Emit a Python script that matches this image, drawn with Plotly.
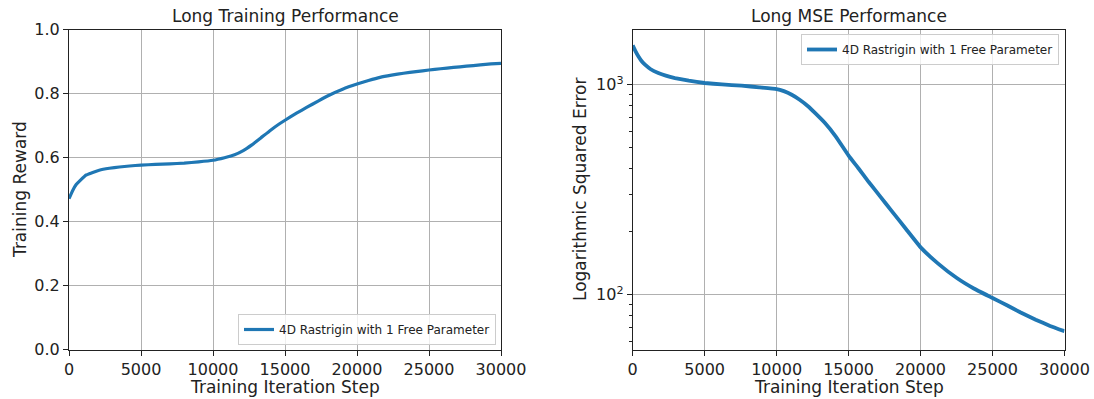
import plotly.graph_objects as go

# Long training run: reward curve (left) and MSE curve on a log scale (right)
reward_steps = [0, 250, 500, 800, 1200, 1600, 2100, 2800, 3500, 4200, 5000, 6000,
                7000, 8000, 9000, 10000, 10800, 11500, 12100, 12700, 13300, 14000,
                14620, 15000, 15800, 16500, 17300, 18100, 19000, 20000, 20800, 21600,
                22400, 23230, 24100, 25000, 25800, 26700, 27600, 28560, 29300, 30000]
reward_values = [0.472, 0.497, 0.516, 0.530, 0.546, 0.553, 0.561, 0.567, 0.571, 0.574,
                 0.577, 0.579, 0.581, 0.583, 0.587, 0.592, 0.600, 0.609, 0.622, 0.640,
                 0.661, 0.686, 0.706, 0.717, 0.739, 0.757, 0.777, 0.796, 0.814, 0.830,
                 0.841, 0.851, 0.858, 0.864, 0.869, 0.874, 0.878, 0.882, 0.886, 0.890,
                 0.893, 0.895]

mse_steps = [0, 200, 390, 600, 855, 1250, 1780, 2300, 2940, 3900, 5000, 6200, 7570,
             8800, 10000, 10500, 11050, 11600, 12200, 12700, 13360, 14100, 15000,
             15680, 16400, 17190, 18000, 19000, 20040, 21200, 22520, 23700, 25000,
             26000, 26920, 28000, 29000, 30000]
mse_values = [1540, 1440, 1365, 1300, 1245, 1185, 1137, 1105, 1076, 1045, 1019, 1003,
              989, 972, 954, 932, 896, 848, 788, 730, 657, 568, 460, 400, 344, 294,
              250, 205, 167, 141, 120, 107, 96.4, 89.0, 82.5, 76.0, 71.0, 67]

x_ticks = [0, 5000, 10000, 15000, 20000, 25000, 30000]
x_tick_text = ["0", "5000", "10000", "15000", "20000", "25000", "30000"]
reward_ticks = [0.0, 0.2, 0.4, 0.6, 0.8, 1.0]
reward_tick_text = ["0.0", "0.2", "0.4", "0.6", "0.8", "1.0"]
mse_ticks = [100, 1000]
mse_tick_text = ["10<sup>2</sup>", "10<sup>3</sup>"]
mse_minor_ticks = [60, 70, 80, 90, 200, 300, 400, 500, 600, 700, 800, 900]

series_name = "4D Rastrigin with 1 Free Parameter"
BLUE = "#1f77b4"
FONT = "DejaVu Sans"
INK = "#222222"
W, H = 1094, 399


def px_x(p):
    return p / W


def px_y(p):
    return 1 - p / H


fig = go.Figure()
fig.add_trace(go.Scatter(x=reward_steps, y=reward_values, mode="lines",
                         line=dict(color=BLUE, width=3.2, shape="spline", smoothing=0.3),
                         name=series_name, xaxis="x", yaxis="y", legend="legend"))
fig.add_trace(go.Scatter(x=mse_steps, y=mse_values, mode="lines",
                         line=dict(color=BLUE, width=3.8, shape="spline", smoothing=0.3),
                         name=series_name, xaxis="x2", yaxis="y2", legend="legend2"))

common_axis = dict(showline=True, mirror=True, linecolor=INK, linewidth=1,
                   ticks="outside", ticklen=5, tickcolor=INK, automargin=False,
                   showgrid=True, gridcolor="#b0b0b0", gridwidth=1,
                   zeroline=False, tickfont=dict(family=FONT, size=16, color=INK))

legend_style = dict(bgcolor="rgba(255,255,255,0.8)", bordercolor="#cccccc",
                    borderwidth=1, font=dict(family=FONT, size=12, color=INK),
                    itemwidth=30)

fig.update_layout(
    width=W, height=H,
    margin=dict(l=0, r=0, t=0, b=0),
    paper_bgcolor="white", plot_bgcolor="white",
    font=dict(family=FONT, color=INK),
    xaxis=dict(domain=[px_x(69), px_x(501)], range=[0, 30000],
               tickvals=x_ticks, ticktext=x_tick_text, anchor="y", **common_axis),
    yaxis=dict(domain=[px_y(349.7), px_y(29.7)], range=[0, 1],
               tickvals=reward_ticks, ticktext=reward_tick_text, anchor="x",
               **common_axis),
    xaxis2=dict(domain=[px_x(632.7), px_x(1064.5)], range=[0, 30000],
                tickvals=x_ticks, ticktext=x_tick_text, anchor="y2", **common_axis),
    yaxis2=dict(domain=[px_y(349.7), px_y(29.7)], type="log",
                range=[1.738, 3.262], tickvals=mse_ticks, ticktext=mse_tick_text,
                anchor="x2",
                minor=dict(tickvals=mse_minor_ticks, ticks="outside", ticklen=3,
                           tickcolor=INK, showgrid=False),
                **common_axis),
    legend=dict(x=px_x(496), y=px_y(345), xanchor="right", yanchor="bottom",
                **legend_style),
    legend2=dict(x=px_x(1059), y=px_y(34), xanchor="right", yanchor="top",
                 **legend_style),
    showlegend=True,
)

labels = [
    ("Long Training Performance", 285, 16, 0),
    ("Long MSE Performance", 849, 16, 0),
    ("Training Iteration Step", 285, 387, 0),
    ("Training Iteration Step", 849, 387, 0),
    ("Training Reward", 20, 190, -90),
    ("Logarithmic Squared Error", 580, 190, -90),
]
for text, lx, ly, angle in labels:
    fig.add_annotation(text=text, x=px_x(lx), y=px_y(ly), xref="paper", yref="paper",
                       xanchor="center", yanchor="middle", showarrow=False,
                       textangle=angle, font=dict(family=FONT, size=17, color=INK))

fig.write_html("out.html")
